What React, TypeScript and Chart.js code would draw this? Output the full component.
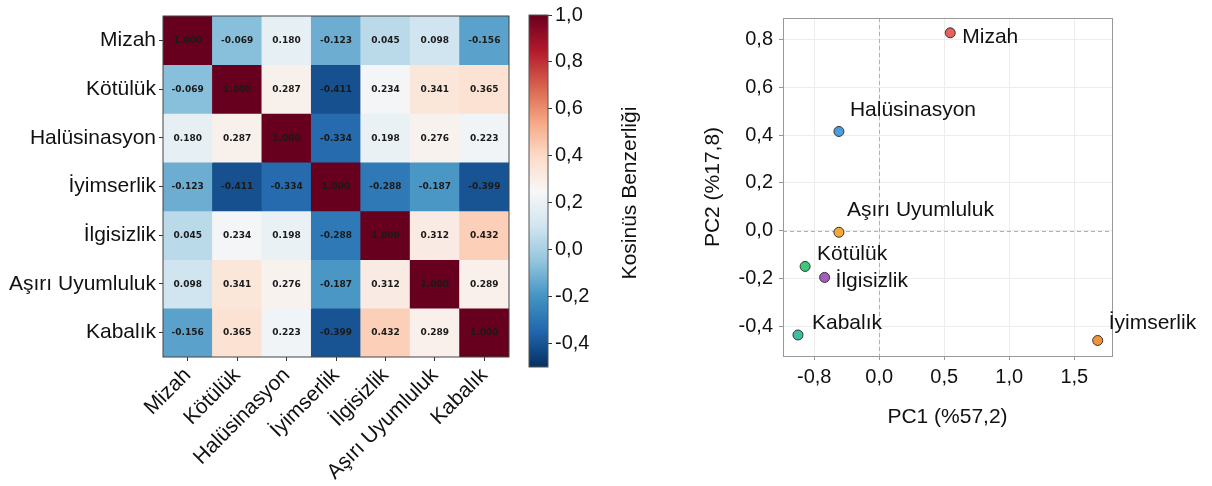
import React, { useEffect, useRef } from "react";
import { Chart, registerables } from "chart.js";
Chart.register(...registerables);

// ---------- DATA ----------
const categories = ["Mizah", "Kötülük", "Halüsinasyon", "İyimserlik", "İlgisizlik", "Aşırı Uyumluluk", "Kabalık"];
const mizahRow = [1.0, -0.069, 0.18, -0.123, 0.045, 0.098, -0.156];
const kotulukRow = [-0.069, 1.0, 0.287, -0.411, 0.234, 0.341, 0.365];
const halusinasyonRow = [0.18, 0.287, 1.0, -0.334, 0.198, 0.276, 0.223];
const iyimserlikRow = [-0.123, -0.411, -0.334, 1.0, -0.288, -0.187, -0.399];
const ilgisizlikRow = [0.045, 0.234, 0.198, -0.288, 1.0, 0.312, 0.432];
const asiriUyumlulukRow = [0.098, 0.341, 0.276, -0.187, 0.312, 1.0, 0.289];
const kabalikRow = [-0.156, 0.365, 0.223, -0.399, 0.432, 0.289, 1.0];
const similarity = [mizahRow, kotulukRow, halusinasyonRow, iyimserlikRow, ilgisizlikRow, asiriUyumlulukRow, kabalikRow];

const colorbarRange = [-0.5, 1.0];
const colorbarTicks = [-0.4, -0.2, 0.0, 0.2, 0.4, 0.6, 0.8, 1.0];
const colorbarTickLabels = ["-0,4", "-0,2", "0,0", "0,2", "0,4", "0,6", "0,8", "1,0"];
const colorbarTitle = "Kosinüs Benzerliği";

const pcaLabels = ["Mizah", "Halüsinasyon", "Aşırı Uyumluluk", "Kötülük", "İlgisizlik", "Kabalık", "İyimserlik"];
const pc1 = [0.546, -0.31, -0.31, -0.57, -0.42, -0.625, 1.68];
const pc2 = [0.828, 0.415, -0.007, -0.15, -0.196, -0.437, -0.46];
const pc1TickValues = [-0.5, 0.0, 0.5, 1.0, 1.5];
const pc1TickLabels = ["-0,8", "0,0", "0,5", "1,0", "1,5"];
const pc2TickValues = [-0.4, -0.2, 0.0, 0.2, 0.4, 0.6, 0.8];
const pc2TickLabels = ["-0,4", "-0,2", "0,0", "0,2", "0,4", "0,6", "0,8"];
const pc1Title = "PC1 (%57,2)";
const pc2Title = "PC2 (%17,8)";

// ---------- STYLE ----------
const FONT = "'Liberation Sans', Arial, Helvetica, sans-serif";
const pointColors = ["#e8605c", "#4b9de0", "#f5a83a", "#3cc77c", "#a45cc0", "#3cbf9f", "#f39238"];
const labelOffsets = [[12, 4], [11, -21], [8, -22], [12, -12], [11, 4], [14, -12], [11, -17]];

const RDBU_R = ["#053061", "#2166ac", "#4393c3", "#92c5de", "#d1e5f0", "#f7f7f7", "#fddbc7", "#f4a582", "#d6604d", "#b2182b", "#67001f"];
function hex(h: string) {
  return [parseInt(h.slice(1, 3), 16), parseInt(h.slice(3, 5), 16), parseInt(h.slice(5, 7), 16)];
}
function rdbu(v: number) {
  let t = (v - colorbarRange[0]) / (colorbarRange[1] - colorbarRange[0]);
  t = Math.max(0, Math.min(1, t));
  const p = t * (RDBU_R.length - 1);
  const i = Math.min(Math.floor(p), RDBU_R.length - 2);
  const f = p - i;
  const a = hex(RDBU_R[i]);
  const b = hex(RDBU_R[i + 1]);
  const c = a.map((x, k) => Math.round(x + (b[k] - x) * f));
  return `rgb(${c[0]},${c[1]},${c[2]})`;
}

export default function App() {
  const heatRef = useRef<HTMLCanvasElement>(null);
  const cbRef = useRef<HTMLCanvasElement>(null);
  const scRef = useRef<HTMLCanvasElement>(null);

  useEffect(() => {
    const cellText = {
      id: "cellText",
      afterDatasetsDraw(chart: any) {
        const ctx = chart.ctx;
        ctx.save();
        ctx.font = "bold 9px 'DejaVu Sans'";
        ctx.fillStyle = "#1a1a1a";
        ctx.textAlign = "center";
        ctx.textBaseline = "middle";
        chart.data.datasets.forEach((_: any, i: number) => {
          const meta = chart.getDatasetMeta(i);
          meta.data.forEach((bar: any, j: number) => {
            const p = bar.getProps(["x", "y", "base"], true);
            ctx.fillText(similarity[i][j].toFixed(3), p.x, (p.y + p.base) / 2 + 0.5);
          });
        });
        const a = chart.chartArea;
        ctx.strokeStyle = "#444";
        ctx.lineWidth = 1;
        ctx.strokeRect(a.left, a.top, a.right - a.left, a.bottom - a.top);
        ctx.restore();
      },
    };

    const heat = new Chart(heatRef.current!, {
      type: "bar",
      data: {
        labels: categories,
        datasets: similarity.map((row, i) => ({
          label: categories[i],
          data: row.map(() => [i, i + 1]),
          backgroundColor: row.map((v) => rdbu(v)),
          borderWidth: 0,
          grouped: false,
          barPercentage: 1,
          categoryPercentage: 1,
        })) as any,
      },
      options: {
        responsive: false,
        animation: false,
        layout: { padding: { top: 16, right: 11, left: 0, bottom: 0 } },
        plugins: { legend: { display: false }, tooltip: { enabled: false } },
        scales: {
          x: {
            type: "category",
            grid: { drawOnChartArea: false, offset: false, tickLength: 4, color: "#333" },
            border: { display: false },
            ticks: { font: { family: FONT, size: 21 }, color: "#111", maxRotation: 45, minRotation: 45, padding: 2, autoSkip: false },
            afterFit: (s: any) => { s.height = 129; },
          },
          y: {
            type: "linear",
            min: 0,
            max: 7,
            reverse: true,
            afterBuildTicks: (s: any) => { s.ticks = categories.map((_, i) => ({ value: i + 0.5 })); },
            ticks: { callback: (v: any) => categories[Math.floor(Number(v))], font: { family: FONT, size: 21 }, color: "#111", padding: 3, autoSkip: false },
            grid: { drawOnChartArea: false, tickLength: 4, color: "#333" },
            border: { display: false },
            afterFit: (s: any) => { s.width = 163; },
          },
        },
      } as any,
      plugins: [cellText],
    });

    const cbDecor = {
      id: "cbDecor",
      afterDraw(chart: any) {
        const ctx = chart.ctx;
        const a = chart.chartArea;
        ctx.save();
        ctx.strokeStyle = "#555";
        ctx.lineWidth = 1;
        ctx.strokeRect(a.left, a.top, a.right - a.left, a.bottom - a.top);
        ctx.translate(a.right + 82, (a.top + a.bottom) / 2 + 2);
        ctx.rotate(-Math.PI / 2);
        ctx.font = `21px ${FONT}`;
        ctx.fillStyle = "#111";
        ctx.textAlign = "center";
        ctx.textBaseline = "middle";
        ctx.fillText(colorbarTitle, 0, 0);
        ctx.restore();
      },
    };

    const cb = new Chart(cbRef.current!, {
      type: "bar",
      data: {
        labels: [""],
        datasets: [
          {
            data: [[colorbarRange[0], colorbarRange[1]]] as any,
            backgroundColor: (c: any) => {
              const ca = c.chart.chartArea;
              if (!ca) return "#fff";
              const g = c.chart.ctx.createLinearGradient(0, ca.bottom, 0, ca.top);
              const n = 60;
              for (let k = 0; k <= n; k++) {
                g.addColorStop(k / n, rdbu(colorbarRange[0] + (k / n) * (colorbarRange[1] - colorbarRange[0])));
              }
              return g;
            },
            borderWidth: 0,
            barPercentage: 1,
            categoryPercentage: 1,
          },
        ],
      },
      options: {
        responsive: false,
        animation: false,
        layout: { padding: { left: 9, top: 8, bottom: 119, right: 0 } },
        plugins: { legend: { display: false }, tooltip: { enabled: false } },
        scales: {
          x: { display: false },
          y: {
            position: "right",
            min: colorbarRange[0],
            max: colorbarRange[1],
            afterBuildTicks: (s: any) => { s.ticks = colorbarTicks.map((value) => ({ value })); },
            ticks: {
              callback: (v: any) => colorbarTickLabels[colorbarTicks.findIndex((t) => Math.abs(t - Number(v)) < 1e-6)],
              font: { family: FONT, size: 20 },
              color: "#111",
              padding: 3,
            },
            grid: { drawOnChartArea: false, tickLength: 4, color: "#333" },
            border: { display: false },
            afterFit: (s: any) => { s.width = 142; },
          },
        },
      } as any,
      plugins: [cbDecor],
    });

    const scDecor = {
      id: "scDecor",
      beforeDatasetsDraw(chart: any) {
        const ctx = chart.ctx;
        const a = chart.chartArea;
        const x0 = chart.scales.x.getPixelForValue(0);
        const y0 = chart.scales.y.getPixelForValue(0);
        ctx.save();
        ctx.strokeStyle = "#b0b0b0";
        ctx.lineWidth = 1;
        ctx.setLineDash([4, 3]);
        ctx.beginPath();
        ctx.moveTo(Math.round(x0) + 0.5, a.top);
        ctx.lineTo(Math.round(x0) + 0.5, a.bottom);
        ctx.moveTo(a.left, Math.round(y0) + 0.5);
        ctx.lineTo(a.right, Math.round(y0) + 0.5);
        ctx.stroke();
        ctx.setLineDash([]);
        ctx.strokeStyle = "#999";
        ctx.strokeRect(Math.round(a.left) + 0.5, Math.round(a.top) + 0.5, Math.round(a.right - a.left), Math.round(a.bottom - a.top));
        ctx.restore();
      },
      afterDatasetsDraw(chart: any) {
        const ctx = chart.ctx;
        const meta = chart.getDatasetMeta(0);
        ctx.save();
        ctx.font = `21px ${FONT}`;
        ctx.fillStyle = "#111";
        ctx.textAlign = "left";
        ctx.textBaseline = "middle";
        meta.data.forEach((pt: any, i: number) => {
          const p = pt.getProps(["x", "y"], true);
          ctx.fillText(pcaLabels[i], p.x + labelOffsets[i][0], p.y + labelOffsets[i][1]);
        });
        ctx.restore();
      },
      afterDraw(chart: any) {
        const ctx = chart.ctx;
        const a = chart.chartArea;
        ctx.save();
        ctx.font = `21px ${FONT}`;
        ctx.fillStyle = "#111";
        ctx.textAlign = "center";
        ctx.textBaseline = "middle";
        ctx.fillText(pc1Title, (a.left + a.right) / 2, a.bottom + 61);
        ctx.translate(a.left - 70, (a.top + a.bottom) / 2);
        ctx.rotate(-Math.PI / 2);
        ctx.fillText(pc2Title, 0, 0);
        ctx.restore();
      },
    };

    const sc = new Chart(scRef.current!, {
      type: "scatter",
      data: {
        datasets: [
          {
            data: pc1.map((x, i) => ({ x, y: pc2[i] })),
            pointBackgroundColor: pointColors,
            pointBorderColor: "#333",
            pointBorderWidth: 1,
            pointRadius: 5,
          },
        ],
      },
      options: {
        responsive: false,
        animation: false,
        layout: { padding: { top: 13, right: 100, left: 0, bottom: 0 } },
        plugins: { legend: { display: false }, tooltip: { enabled: false } },
        scales: {
          x: {
            type: "linear",
            min: -0.74,
            max: 1.79,
            afterBuildTicks: (s: any) => { s.ticks = pc1TickValues.map((value) => ({ value })); },
            ticks: {
              callback: (v: any) => pc1TickLabels[pc1TickValues.findIndex((t) => Math.abs(t - Number(v)) < 1e-6)],
              font: { family: FONT, size: 20 },
              color: "#111",
              padding: 5,
              maxRotation: 0,
            },
            grid: { color: "#ececec", tickColor: "#999", tickLength: 4 },
            border: { display: false },
            afterFit: (s: any) => { s.height = 130; },
          },
          y: {
            type: "linear",
            min: -0.525,
            max: 0.89,
            afterBuildTicks: (s: any) => { s.ticks = pc2TickValues.map((value) => ({ value })); },
            ticks: {
              callback: (v: any) => pc2TickLabels[pc2TickValues.findIndex((t) => Math.abs(t - Number(v)) < 1e-6)],
              font: { family: FONT, size: 20 },
              color: "#111",
              padding: 6,
            },
            grid: { color: "#ececec", tickColor: "#999", tickLength: 4 },
            border: { display: false },
            afterFit: (s: any) => { s.width = 93; },
          },
        },
      } as any,
      plugins: [scDecor],
    });

    return () => {
      heat.destroy();
      cb.destroy();
      sc.destroy();
    };
  }, []);

  return (
    <div style={{ position: "absolute", left: 0, top: 0, width: 1212, height: 486, background: "#fff" }}>
      <canvas ref={heatRef} width={520} height={486} style={{ position: "absolute", left: 0, top: 0, width: 520, height: 486 }} />
      <canvas ref={cbRef} width={170} height={486} style={{ position: "absolute", left: 520, top: 0, width: 170, height: 486 }} />
      <canvas ref={scRef} width={522} height={486} style={{ position: "absolute", left: 690, top: 0, width: 522, height: 486 }} />
    </div>
  );
}
